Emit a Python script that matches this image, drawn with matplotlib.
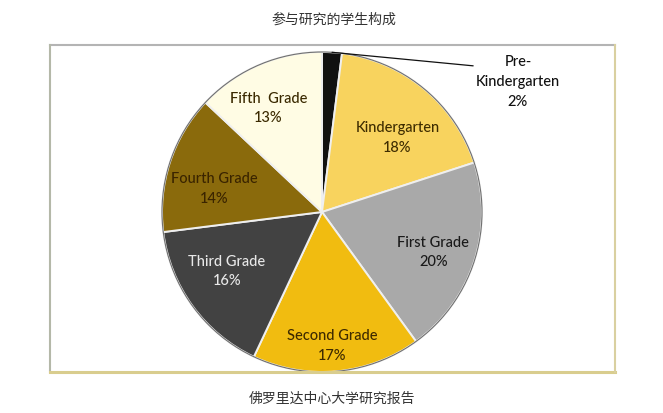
import numpy as np
import matplotlib
matplotlib.use('Agg')
import matplotlib.pyplot as plt

# data
grades = ['Pre-\nKindergarten', 'Kindergarten', 'First Grade', 'Second Grade',
          'Third Grade', 'Fourth Grade', 'Fifth  Grade']
shares = [2, 18, 20, 17, 16, 14, 13]
title = '参与研究的学生构成'
source = '佛罗里达中心大学研究报告'

# style
colors = ['#111111', '#F8D35E', '#A9A9A9', '#F1BC10', '#424242', '#8A6A0C', '#FFFCE4']
text_colors = ['#111111', '#3E2C00', '#1A1A1A', '#3E2A00', '#E8E8E8', '#3A2400', '#3A2900']
label_r = [None, 0.66, 0.74, 0.84, 0.70, 0.69, 0.73]
label_shift = [0, -6, -2, -1, -4, 6, 4]  # degrees

W, H = 663, 413


def main():
    fig = plt.figure(figsize=(W / 100, H / 100), dpi=100)
    ax = fig.add_axes([0, 0, 1, 1])
    ax.set_xlim(0, W)
    ax.set_ylim(0, H)
    ax.set_aspect('equal')
    ax.axis('off')

    # frame around the chart
    x0, x1, y0, y1 = 50, 615, H - 372, H - 45
    ax.plot([x0, x1], [y1, y1], color='#B4B4B4', lw=1.5)
    ax.plot([x0, x0], [y0, y1], color='#B4B8A8', lw=1.5)
    ax.plot([x0, x1], [y0, y0], color='#D9CD8E', lw=2.2)
    ax.plot([x1, x1], [y0, y1], color='#D9D0A0', lw=1.5)

    cx, cy, R = 322, H - 212, 160
    wedges, _ = ax.pie(shares, colors=colors, startangle=90, counterclock=False,
                       center=(cx, cy), radius=R, frame=True,
                       wedgeprops=dict(edgecolor='#EFEFEF', linewidth=1.4))
    ax.set_xlim(0, W)
    ax.set_ylim(0, H)
    ax.axis('off')
    rim = plt.Circle((cx, cy), R, fill=False, edgecolor='#707070', lw=0.8)
    ax.add_patch(rim)

    font = dict(fontsize=10.5, family='Lato', weight='medium', linespacing=1.5,
                ha='center', va='center')
    for i, w in enumerate(wedges):
        txt = grades[i] + '\n' + str(shares[i]) + '%'
        mid = np.deg2rad((w.theta1 + w.theta2) / 2 + label_shift[i])
        if label_r[i] is None:
            edge = (cx + R * np.cos(mid), cy + R * np.sin(mid))
            ax.annotate(txt, xy=edge, xytext=(518, H - 82), color=text_colors[i],
                        arrowprops=dict(arrowstyle='-', color='#111111', lw=0.9,
                                        shrinkA=0, shrinkB=0, relpos=(0, 0.8)),
                        **font)
        else:
            tx = cx + label_r[i] * R * np.cos(mid)
            ty = cy + label_r[i] * R * np.sin(mid)
            ax.text(tx, ty, txt, color=text_colors[i], **font)

    ax.text(334, H - 20, title, ha='center', va='center', fontsize=10,
            family=['Noto Sans CJK SC', 'DejaVu Sans'], color='#333333')
    ax.text(332, H - 399, source, ha='center', va='center', fontsize=10,
            family=['Noto Sans CJK SC', 'DejaVu Sans'], color='#333333')

    fig.savefig('out.png', dpi=100)


if __name__ == "__main__":
    main()
